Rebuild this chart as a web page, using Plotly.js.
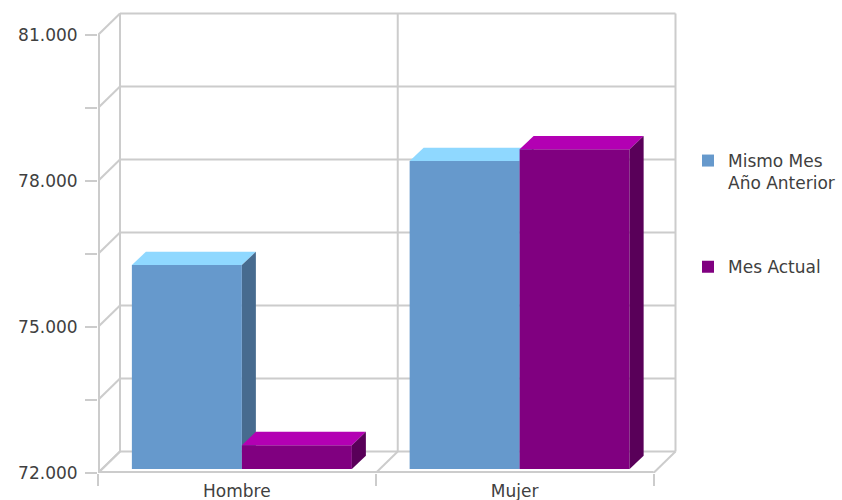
<!DOCTYPE html>
<html>
<head>
<meta charset="utf-8">
<script src="https://cdn.plot.ly/plotly-3.0.1.min.js"></script>
<style>html,body{margin:0;padding:0;background:#fff}#chart{width:842px;height:500px}</style>
</head>
<body>
<div id="chart"></div>
<script>
// ---- data ----
const categories = ['Hombre', 'Mujer'];
const seriesNames = ['Mismo Mes<br>Año Anterior', 'Mes Actual'];
const prevYearValues = [76190, 78330];
const currentMonthValues = [72490, 78570];
const yTickVals = [72000, 73500, 75000, 76500, 78000, 79500, 81000];
const yTickText = ['72.000', '', '75.000', '', '78.000', '', '81.000'];
const boundaryVals = [-0.5, 0.5, 1.5];

// ---- styling / geometry ----
const FRONT = ['#6699CC', '#800080'];
const TOP = ['#8FD8FF', '#B300B3'];
const SIDE = ['#476B8F', '#590059'];
const GRID = '#cccccc';
const TEXT = '#404040';
const FONT = 'DejaVu Sans, Verdana, sans-serif';

const L = 98, R = 165, T = 12, B = 27;
const W = 842 - L - R, H = 500 - T - B;
const catPx = 277.75;                 // px per category on front plane
const unitPx = 438 / 9000;            // px per value unit
const base = yTickVals[0];
const xr = [-0.5, -0.5 + W / catPx];
const yr = [base, base + H / unitPx];
const dxW = 22 / catPx, dyW = 21.5 / unitPx;     // wall depth
const sx = 5 / catPx, sy = 4 / unitPx;           // bar plane shift
const bdx = 14 / catPx, bdy = 13.3 / unitPx;     // bar depth
const barW = 110 / catPx;
const bargap = 1 - 2 * barW;

const series = [prevYearValues, currentMonthValues];
const yMax = yTickVals[yTickVals.length - 1];
const xMin = boundaryVals[0], xMax = boundaryVals[boundaryVals.length - 1];

const shapes = [];
function line(x0, y0, x1, y1, w) {
  shapes.push({type: 'line', xref: 'x', yref: 'y', x0, y0, x1, y1,
    layer: 'below', line: {color: GRID, width: w || 2}});
}
// back wall gridlines and left wall diagonals
yTickVals.forEach(v => {
  line(xMin + dxW, v + dyW, xMax + dxW, v + dyW);
  line(xMin, v, xMin + dxW, v + dyW);
});
// back wall verticals and floor diagonals
boundaryVals.forEach(b => {
  line(b + dxW, base + dyW, b + dxW, yMax + dyW);
  line(b, base, b + dxW, base + dyW);
});
// front edges (on plot border; half clipped)
line(xMin, base, xMin, yMax, 4);
line(xMin, base, xMax, base, 4);

function poly(pts) {
  return 'M' + pts.map(p => p[0] + ',' + p[1]).join('L') + 'Z';
}
// bar tops and sides (on bar axes)
series.forEach((vals, s) => {
  vals.forEach((v, i) => {
    const x0 = i - barW + s * barW, x1 = x0 + barW;
    const layer = s === series.length - 1 ? 'above' : 'below';
    shapes.push({type: 'path', xref: 'x2', yref: 'y2', layer,
      path: poly([[x0, v], [x0 + bdx, v + bdy], [x1 + bdx, v + bdy], [x1, v]]),
      fillcolor: TOP[s], line: {width: 0}});
    shapes.push({type: 'path', xref: 'x2', yref: 'y2', layer,
      path: poly([[x1, base], [x1, v], [x1 + bdx, v + bdy], [x1 + bdx, base + bdy]]),
      fillcolor: SIDE[s], line: {width: 0}});
  });
});

const traces = series.map((vals, s) => ({
  type: 'bar',
  name: seriesNames[s],
  legendgroup: 'g' + s,
  x: categories.map((c, i) => i),
  y: vals.map(v => v - base),
  base: base,
  xaxis: 'x2', yaxis: 'y2',
  marker: {color: FRONT[s], line: {width: 0}},
  hoverinfo: 'skip'
}));

const layout = {
  width: 842, height: 500,
  margin: {l: L, r: R, t: T, b: B, autoexpand: false},
  paper_bgcolor: '#fff', plot_bgcolor: 'rgba(0,0,0,0)',
  font: {family: FONT, size: 17, color: TEXT},
  barmode: 'group', bargap: bargap, bargroupgap: 0,
  showlegend: true,
  legend: {x: (688 - L) / W, y: 1 - (143 - T) / H, xanchor: 'left', yanchor: 'top',
    valign: 'top', tracegroupgap: 59, font: {family: FONT, size: 17, color: TEXT},
    bgcolor: 'rgba(0,0,0,0)'},
  xaxis: {range: xr, showgrid: false, zeroline: false, showline: false,
    tickvals: categories.map((c, i) => i), ticktext: categories,
    ticks: 'outside', ticklen: 3, tickcolor: 'rgba(0,0,0,0)',
    minor: {tickvals: boundaryVals, ticks: 'outside', ticklen: 12, tickcolor: GRID, tickwidth: 2, showgrid: false},
    fixedrange: true},
  yaxis: {range: yr, showgrid: false, zeroline: false, showline: false,
    tickvals: yTickVals, ticktext: yTickText,
    ticks: 'outside', ticklen: 12, tickcolor: GRID, tickwidth: 2,
    ticklabelstandoff: 4,
    fixedrange: true},
  xaxis2: {range: [xr[0] - sx, xr[1] - sx], overlaying: 'x', visible: false, fixedrange: true},
  yaxis2: {range: [yr[0] - sy, yr[1] - sy], overlaying: 'y', visible: false, fixedrange: true},
  shapes: shapes
};

Plotly.newPlot('chart', traces, layout, {displayModeBar: false, staticPlot: true});
</script>
</body>
</html>
